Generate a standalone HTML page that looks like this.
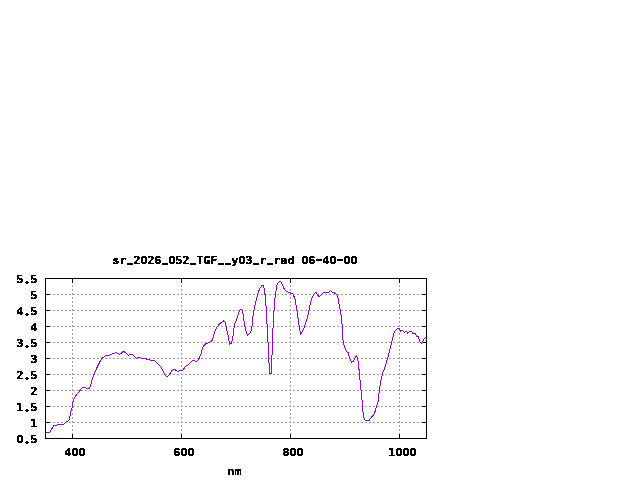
<!DOCTYPE html><html><head><meta charset="utf-8"><title>plot</title><style>html,body{margin:0;padding:0;background:#fff;width:640px;height:480px;overflow:hidden}svg{display:block}text{font-family:"DejaVu Sans Mono", "Liberation Mono", monospace;font-weight:bold;font-size:11.0px;letter-spacing:0.0px;fill:#000;stroke:#000;stroke-width:0.3px}.u{font-size:21.5px;stroke-width:0}.h{font-size:14px;stroke-width:0}.d{font-size:13px;stroke-width:0.4px}.xl{stroke-width:0.15px}.z{font-family:"Liberation Sans","DejaVu Sans",sans-serif;font-size:11.3px;stroke-width:0.3px}</style></head><body>
<svg width="640" height="480" viewBox="0 0 640 480" style="will-change:transform">
<rect x="0" y="0" width="640" height="480" fill="#fff"/>
<path d="M45 294.5H427 M45 310.5H427 M45 326.5H427 M45 342.5H427 M45 358.5H427 M45 374.5H427 M45 390.5H427 M45 406.5H427 M45 422.5H427 M72.5 439V278 M181.5 439V278 M290.5 439V278 M399.5 439V278" stroke="#a0a0a0" stroke-width="1" stroke-dasharray="2 2" fill="none" shape-rendering="crispEdges"/>
<path d="M45 278.5H50 M422 278.5H427 M45 294.5H50 M422 294.5H427 M45 310.5H50 M422 310.5H427 M45 326.5H50 M422 326.5H427 M45 342.5H50 M422 342.5H427 M45 358.5H50 M422 358.5H427 M45 374.5H50 M422 374.5H427 M45 390.5H50 M422 390.5H427 M45 406.5H50 M422 406.5H427 M45 422.5H50 M422 422.5H427 M45 438.5H50 M422 438.5H427 M72.5 439V434 M72.5 278V283 M181.5 439V434 M181.5 278V283 M290.5 439V434 M290.5 278V283 M399.5 439V434 M399.5 278V283" stroke="#000" stroke-width="1" fill="none" shape-rendering="crispEdges"/>
<clipPath id="c"><rect x="45" y="278" width="382" height="161"/></clipPath>
<path d="M45.5 432.5 L49.7 432.5 L51.1 429.5 L52.5 427.75 L53.9 425.6 L54.6 425.1 L56.8 425.1 L57.5 424.6 L63.5 424.6 L64.9 423.1 L66.7 421.7 L69.2 420 L69.5 417.5 L70.4 414.6 L70.8 411.8 L71.5 409.7 L71.8 408.3 L72.4 406.5 L72.5 405.1 L73.2 400.8 L74.25 398.7 L75.3 396.6 L77.1 394.1 L78.9 392 L80.6 389.8 L82.4 387.3 L85.25 387.3 L86.7 388.4 L89.1 388.4 L90.2 386.6 L91.3 383.4 L92.5 378.2 L94.2 374 L95.4 371.1 L96.7 368.2 L97.9 365.7 L99.2 363.2 L100.4 360.7 L101.7 359 L103.3 357.3 L105 356.1 L106.7 355.25 L109.6 355.25 L111.25 354.4 L112.9 353.3 L114.6 353.3 L115.8 352.3 L117.5 353.2 L119.6 354.4 L121.25 353.2 L123.3 351.3 L125 352.3 L126.7 353.6 L128.3 355.25 L130.25 354.3 L132.3 354.3 L134.4 356.5 L136.3 358.5 L137.75 357.5 L140.25 357.5 L141.5 358.5 L145.7 358.5 L146.9 359.4 L149.4 359.4 L150.7 360.4 L154.4 360.4 L156.1 362.1 L158.2 364.2 L161.1 367.1 L162.3 369.6 L163.75 372.7 L165 374.75 L166.7 376.4 L167.9 376 L169.6 374.3 L170.4 372.7 L171.7 371 L173.75 369.3 L175 369.75 L176.25 370.6 L177.9 371.4 L179.6 370.6 L182.1 370.3 L183.3 369.75 L184.6 367.7 L185.8 366.2 L187.5 365.3 L189.2 363.9 L190.8 362.25 L192.5 360.6 L194.2 360.6 L195.8 361.4 L197.9 360.6 L199.2 358.1 L200.1 355.9 L201.5 352.7 L202.4 348.6 L203.8 345.8 L206.1 343.5 L208.8 342.6 L211.1 341.7 L212.5 340 L213.4 336.6 L214.3 332.5 L215.7 329.8 L217.1 327 L218.5 325.2 L220.8 322.9 L223.5 321 L224.9 322 L225.8 325.2 L226.7 329.8 L227.7 333.4 L228.6 338.9 L229.5 344.4 L230.4 343.1 L231.3 343.1 L232.2 340.8 L233 336 L233.6 330.5 L234.6 324.5 L236.2 320.3 L237.7 315.6 L239.3 311.5 L240.3 309.6 L241.9 309.6 L242.9 313.5 L244 320.8 L245 326.6 L246.1 331.25 L247.4 335.2 L249.2 333.9 L251.3 330.7 L252.3 324 L252.5 317.25 L253.25 315 L253.4 311.25 L254 309.75 L254.6 306.75 L255.1 304.5 L255.5 302.25 L256.25 300 L256.6 298.1 L257.4 296.25 L257.75 294.4 L258.5 291.75 L259.25 289.9 L260.4 287.6 L261.5 286.1 L262.6 285.4 L263.4 285.4 L263.9 287.6 L264.5 289.5 L264.65 294 L265.25 294.75 L265.5 300 L265.5 305.5 L266.5 306.5 L266.5 323.5 L267.5 324.5 L267.5 341.5 L268.5 342.5 L268.5 362.5 L269.5 363.5 L269.5 373.5 L271.5 373.5 L271.5 355.5 L272.5 354.5 L272.5 328.5 L273.5 327.5 L273.5 311.5 L274.5 310.5 L274.5 298.5 L275.5 297.5 L275.5 291.5 L276.5 290.5 L276.5 286.5 L278.25 282.75 L279.4 281.5 L280.5 281.5 L281.6 282.75 L282.4 284.6 L283.1 286.5 L283.9 288.4 L285 290.25 L286.1 291.4 L288 292.1 L289.9 292.1 L290.4 293.25 L292.9 294.1 L294.75 297.9 L296 304.75 L297.25 312.25 L298.5 321 L299.75 329.75 L300.75 334.1 L302.25 331.6 L304.1 328 L306 322.5 L307.9 315.5 L309.75 306 L310.8 302.1 L311.7 299.2 L312.5 296.7 L313.75 294.2 L315.4 292.3 L316.25 292.5 L317.5 295 L318.75 296.5 L320 295.8 L321.7 294.2 L323.3 292.5 L328.3 292.5 L330.4 290.4 L332.1 292.1 L334.2 292.9 L335.8 293.75 L337.1 295.4 L337.9 297.9 L338.75 301.7 L339.2 305 L340 308.75 L340.8 312.5 L340.9 313.75 L342.1 325 L342.75 337.5 L343.4 343.1 L344.6 347.5 L346.5 351.25 L348.4 353.1 L349.6 358.1 L351.5 362.25 L353.4 361 L355.25 357.5 L356.5 355.6 L357.75 358.75 L358.4 363.75 L358.7 365.3 L359.3 373.3 L360 380 L360.9 389.3 L362 400 L362.7 409.3 L363.3 414.7 L364 418 L365.3 420.3 L369.3 420.3 L371.1 417.6 L373.4 414.9 L374.8 412.1 L375.7 409.4 L376.6 406.6 L377.6 403.4 L378.5 399.7 L378.75 394.7 L379.4 390 L380 386.4 L380.6 382.8 L381.6 377.2 L382.7 373.3 L384.5 368.25 L385.6 365.25 L386.75 361.5 L387.5 358.5 L388.6 354.75 L389.4 351 L390.5 347.25 L391.25 343.5 L392 341.25 L392.75 337.5 L393.5 335 L394.2 332.5 L395.1 330.7 L396.2 329.6 L397.25 328.5 L399.1 328.5 L400 330.1 L400.5 331.2 L401 330.4 L402.7 330.4 L403.75 331.5 L404.6 332.6 L405.6 331.5 L406.7 331.5 L407.5 333.1 L408.35 332.6 L409.4 331.5 L411.6 331.5 L412.4 333.1 L413.5 333.4 L415.4 333.6 L416.2 335.5 L417 336.6 L418.4 336.6 L418.9 338.25 L419.5 341 L420.5 342.6 L421.5 343.4 L422.4 342.3 L423.5 340.4 L424.3 338.8 L425.4 337.7 L426.5 337" stroke="#9400d3" stroke-width="1" fill="none" shape-rendering="crispEdges" clip-path="url(#c)"/>
<rect x="45.5" y="278.5" width="381" height="160" stroke="#000" stroke-width="1" fill="none" shape-rendering="crispEdges"/>
<filter id="bin" x="0" y="0" width="640" height="480" filterUnits="userSpaceOnUse"><feComponentTransfer><feFuncA type="discrete" tableValues="0 1"/></feComponentTransfer></filter><g filter="url(#bin)">
<text transform="scale(1.1,1)"><tspan x="102.14 108.51" y="264">sr</tspan><tspan class="u" x="115.45" y="259.93" textLength="5.45" lengthAdjust="spacingAndGlyphs">_</tspan><tspan x="121.24" y="264">2</tspan><tspan class="z" x="127.78" y="264">0</tspan><tspan x="133.96 140.33" y="264">26</tspan><tspan class="u" x="147.27" y="259.93" textLength="5.45" lengthAdjust="spacingAndGlyphs">_</tspan><tspan class="z" x="153.23" y="264">0</tspan><tspan x="159.42 165.78" y="264">52</tspan><tspan class="u" x="172.73" y="259.93" textLength="5.45" lengthAdjust="spacingAndGlyphs">_</tspan><tspan x="178.51 184.87 191.24" y="264">TGF</tspan><tspan class="u" x="198.18" y="259.93" textLength="5.45" lengthAdjust="spacingAndGlyphs">_</tspan><tspan class="u" x="204.55" y="259.93" textLength="5.45" lengthAdjust="spacingAndGlyphs">_</tspan><tspan x="210.33" y="264">y</tspan><tspan class="z" x="216.87" y="264">0</tspan><tspan x="223.05" y="264">3</tspan><tspan class="u" x="230.00" y="259.93" textLength="5.45" lengthAdjust="spacingAndGlyphs">_</tspan><tspan x="235.78" y="264">r</tspan><tspan class="u" x="242.73" y="259.93" textLength="5.45" lengthAdjust="spacingAndGlyphs">_</tspan><tspan x="248.51 254.87 261.24 267.60" y="264">rad </tspan><tspan class="z" x="274.14" y="264">0</tspan><tspan x="280.33" y="264">6</tspan><tspan class="h" x="284.67" y="264.00" textLength="10.65" lengthAdjust="spacingAndGlyphs">-</tspan><tspan x="293.05" y="264">4</tspan><tspan class="z" x="299.59" y="264">0</tspan><tspan class="h" x="303.76" y="264.00" textLength="10.65" lengthAdjust="spacingAndGlyphs">-</tspan><tspan class="z" x="312.32 318.68" y="264">00</tspan></text>
<text transform="scale(1.1,1)"><tspan x="14.87" y="283">5</tspan><tspan class="d" x="20.96" y="280.56" rotate="45">.</tspan><tspan x="27.60" y="283">5</tspan></text>
<text transform="scale(1.1,1)"><tspan x="27.60" y="299">5</tspan></text>
<text transform="scale(1.1,1)"><tspan x="14.87" y="315">4</tspan><tspan class="d" x="20.96" y="312.56" rotate="45">.</tspan><tspan x="27.60" y="315">5</tspan></text>
<text transform="scale(1.1,1)"><tspan x="27.60" y="331">4</tspan></text>
<text transform="scale(1.1,1)"><tspan x="14.87" y="347">3</tspan><tspan class="d" x="20.96" y="344.56" rotate="45">.</tspan><tspan x="27.60" y="347">5</tspan></text>
<text transform="scale(1.1,1)"><tspan x="27.60" y="363">3</tspan></text>
<text transform="scale(1.1,1)"><tspan x="14.87" y="379">2</tspan><tspan class="d" x="20.96" y="376.56" rotate="45">.</tspan><tspan x="27.60" y="379">5</tspan></text>
<text transform="scale(1.1,1)"><tspan x="27.60" y="395">2</tspan></text>
<text transform="scale(1.1,1)"><tspan x="14.87" y="411">1</tspan><tspan class="d" x="20.96" y="408.56" rotate="45">.</tspan><tspan x="27.60" y="411">5</tspan></text>
<text transform="scale(1.1,1)"><tspan x="27.60" y="427">1</tspan></text>
<text transform="scale(1.1,1)"><tspan class="z" x="15.05" y="443">0</tspan><tspan class="d" x="20.96" y="440.56" rotate="45">.</tspan><tspan x="27.60" y="443">5</tspan></text>
<text transform="scale(1.1,1)"><tspan x="58.51" y="456">4</tspan><tspan class="z" x="65.05 71.41" y="456">00</tspan></text>
<text transform="scale(1.1,1)"><tspan x="157.60" y="456">6</tspan><tspan class="z" x="164.14 170.50" y="456">00</tspan></text>
<text transform="scale(1.1,1)"><tspan x="256.69" y="456">8</tspan><tspan class="z" x="263.23 269.59" y="456">00</tspan></text>
<text transform="scale(1.1,1)"><tspan x="353.05" y="456">1</tspan><tspan class="z" x="359.59 365.96 372.32" y="456">000</tspan></text>
<text class="xl" transform="scale(1.1,1)"><tspan x="206.69 213.05" y="475">nm</tspan></text>
</g>
</svg></body></html>
